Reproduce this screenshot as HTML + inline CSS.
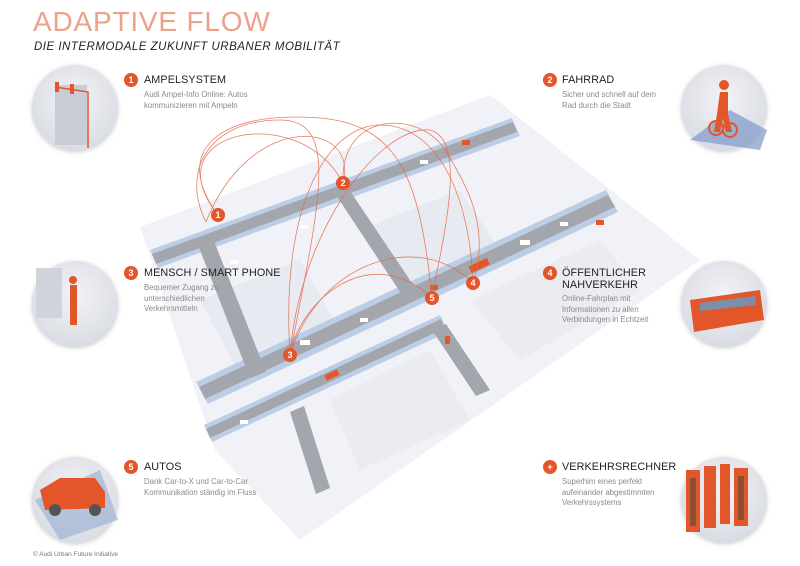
<!DOCTYPE html>
<html><head><meta charset="utf-8"><style>
html,body{margin:0;padding:0;background:#fff;}
body{width:800px;height:566px;position:relative;overflow:hidden;font-family:"Liberation Sans",sans-serif;}
.t{position:absolute;white-space:nowrap;}
.h{font-size:10.8px;color:#222;letter-spacing:0.1px;}
.d{font-size:7.8px;color:#8a8a8a;line-height:10.5px;}
.b{position:absolute;width:14px;height:14px;border-radius:50%;background:#e2562a;color:#fff;font-size:9px;font-weight:bold;text-align:center;line-height:14px;}
</style></head><body>
<svg width="800" height="566" style="position:absolute;left:0;top:0">
<defs>
<radialGradient id="cg" cx="50%" cy="40%" r="60%"><stop offset="0" stop-color="#f2f3f6"/><stop offset="1" stop-color="#d9dce3"/></radialGradient>
<filter id="sh"><feDropShadow dx="0" dy="1" stdDeviation="2" flood-color="#999" flood-opacity="0.5"/></filter>
</defs>
<!-- plateau -->
<polygon points="140,227 490,95 700,260 300,540 215,450" fill="#f1f2f7"/>
<polygon points="200,300 300,260 340,330 240,375" fill="#e8eaf1"/>
<polygon points="360,230 460,190 500,250 400,290" fill="#e8eaf1"/>
<polygon points="470,300 600,240 640,290 520,360" fill="#eaecf2"/>
<polygon points="330,400 430,350 470,420 360,470" fill="#eaecf2"/>
<!-- upper road -->
<polygon points="150,250 512,118 520,136 158,268" fill="#bccde6"/>
<polygon points="152,254 513,122 517,132 156,264" fill="#a4a6ad"/>
<!-- main road -->
<polygon points="196,382 606,190 618,212 208,404" fill="#bccde6"/>
<polygon points="199,387 608,195 615,207 205,399" fill="#a4a6ad"/>
<!-- lower road -->
<polygon points="204,425 440,315 448,332 212,442" fill="#bccde6"/>
<polygon points="206,429 441,319 445,328 210,438" fill="#a4a6ad"/>
<!-- cross roads -->
<polygon points="196,240 212,236 266,372 250,378" fill="#a4a6ad"/>
<polygon points="290,412 304,406 330,488 316,494" fill="#a4a6ad"/>
<polygon points="334,192 348,188 418,292 404,298" fill="#a4a6ad"/>
<polygon points="432,330 446,324 490,390 476,396" fill="#a4a6ad"/>
<!-- cars -->
<g fill="#fff">
<rect x="300" y="340" width="10" height="5"/><rect x="360" y="318" width="8" height="4"/><rect x="520" y="240" width="10" height="5"/><rect x="560" y="222" width="8" height="4"/><rect x="240" y="420" width="8" height="4"/><rect x="230" y="260" width="8" height="4"/><rect x="300" y="225" width="8" height="4"/><rect x="420" y="160" width="8" height="4"/>
</g>
<g fill="#e2562a">
<rect x="469" y="262" width="20" height="7" transform="rotate(-25 479 265)"/>
<rect x="430" y="285" width="8" height="5"/><rect x="462" y="140" width="8" height="5"/><rect x="596" y="220" width="8" height="5"/><rect x="445" y="336" width="5" height="8"/><rect x="325" y="372" width="14" height="6" transform="rotate(-25 332 375)"/>
</g>
<!-- arcs -->
<g fill="none" stroke="#e2694a" stroke-width="0.8" opacity="0.85">
<path d="M218,215 C170,150 220,110 320,118 C400,125 420,180 432,298"/>
<path d="M206,222 C180,170 210,120 280,120 C340,120 320,200 290,355"/>
<path d="M218,215 C150,130 300,100 343,183"/>
<path d="M290,355 C280,200 330,125 380,125 C440,125 470,200 473,283"/>
<path d="M290,355 C300,230 380,125 430,130 C470,140 440,250 432,298"/>
<path d="M343,183 C340,110 420,110 445,150 C470,190 490,230 473,283"/>
<path d="M290,355 C320,260 420,230 473,283"/>
<path d="M290,355 C300,300 370,240 432,298"/>
<path d="M343,183 C360,120 250,110 206,222"/>
</g>
<!-- circles -->
<g filter="url(#sh)">
<circle cx="75" cy="108" r="43" fill="url(#cg)"/>
<circle cx="724" cy="108" r="43" fill="url(#cg)"/>
<circle cx="75" cy="304" r="43" fill="url(#cg)"/>
<circle cx="724" cy="304" r="43" fill="url(#cg)"/>
<circle cx="75" cy="500" r="43" fill="url(#cg)"/>
<circle cx="724" cy="500" r="43" fill="url(#cg)"/>
</g>
<!-- circle contents -->
<rect x="55" y="85" width="32" height="60" fill="#c9ccd4"/>
<path d="M55,87 L88,92 L88,148" stroke="#e2562a" stroke-width="1.5" fill="none"/>
<rect x="55" y="82" width="4" height="10" fill="#e2562a"/><rect x="70" y="84" width="4" height="10" fill="#e2562a"/>
<path d="M690,140 L730,110 L767,130 L760,150 Z" fill="#7d98c8" opacity="0.7"/>
<path d="M720,92 h8 v22 l4,18 h-6 l-3,-14 l-3,14 h-6 l3,-18 z" fill="#e2562a"/>
<circle cx="724" cy="85" r="5" fill="#e2562a"/>
<circle cx="716" cy="128" r="7" fill="none" stroke="#e2562a" stroke-width="2"/><circle cx="730" cy="130" r="7" fill="none" stroke="#e2562a" stroke-width="2"/>
<rect x="36" y="268" width="26" height="50" fill="#d0d3da"/>
<path d="M70,285 h7 v40 h-7 z" fill="#e2562a"/><circle cx="73" cy="280" r="4" fill="#e2562a"/>
<path d="M690,300 L760,290 L764,320 L694,332 Z" fill="#e2562a"/>
<path d="M700,303 L755,296 L756,305 L700,311 Z" fill="#7d8ea8"/>
<path d="M35,500 L100,470 L118,520 L60,540 Z" fill="#9fb3d6" opacity="0.7"/>
<path d="M40,490 L60,478 L95,478 L105,492 L105,508 L45,510 Z" fill="#e2562a"/>
<circle cx="55" cy="510" r="6" fill="#555"/><circle cx="95" cy="510" r="6" fill="#555"/>
<g fill="#e2562a"><rect x="686" y="470" width="14" height="62"/><rect x="704" y="466" width="12" height="62"/><rect x="720" y="464" width="10" height="60"/><rect x="734" y="468" width="14" height="58"/></g>
<g fill="#8a5030"><rect x="690" y="478" width="6" height="48"/><rect x="738" y="476" width="6" height="44"/></g>
</svg>
<!-- map badges -->
<div class="b" style="left:211px;top:208px">1</div>
<div class="b" style="left:336px;top:176px">2</div>
<div class="b" style="left:283px;top:348px">3</div>
<div class="b" style="left:466px;top:276px">4</div>
<div class="b" style="left:425px;top:291px">5</div>

<div class="t" style="left:33px;top:6px;font-size:28px;color:#eda08a;letter-spacing:0.8px;">ADAPTIVE FLOW</div>
<div class="t" style="left:34px;top:41px;font-size:11.5px;font-style:italic;color:#222;letter-spacing:0.5px;">DIE INTERMODALE ZUKUNFT URBANER MOBILITÄT</div>

<div class="b" style="left:124px;top:73px">1</div>
<div class="t h" style="left:144px;top:74px">AMPELSYSTEM</div>
<div class="t d" style="left:144px;top:90px">Audi Ampel-Info Online: Autos<br>kommunizieren mit Ampeln</div>

<div class="b" style="left:543px;top:73px">2</div>
<div class="t h" style="left:562px;top:74px">FAHRRAD</div>
<div class="t d" style="left:562px;top:90px">Sicher und schnell auf dem<br>Rad durch die Stadt</div>

<div class="b" style="left:124px;top:266px">3</div>
<div class="t h" style="left:144px;top:267px">MENSCH / SMART PHONE</div>
<div class="t d" style="left:144px;top:283px">Bequemer Zugang zu<br>unterschiedlichen<br>Verkehrsmitteln</div>

<div class="b" style="left:543px;top:266px">4</div>
<div class="t h" style="left:562px;top:267px;line-height:12px">ÖFFENTLICHER<br>NAHVERKEHR</div>
<div class="t d" style="left:562px;top:294px">Online-Fahrplan mit<br>Informationen zu allen<br>Verbindungen in Echtzeit</div>

<div class="b" style="left:124px;top:460px">5</div>
<div class="t h" style="left:144px;top:461px">AUTOS</div>
<div class="t d" style="left:144px;top:477px">Dank Car-to-X und Car-to-Car<br>Kommunikation ständig im Fluss</div>

<div class="b" style="left:543px;top:460px">+</div>
<div class="t h" style="left:562px;top:461px">VERKEHRSRECHNER</div>
<div class="t d" style="left:562px;top:477px">Superhim eines perfekt<br>aufeinander abgestimmten<br>Verkehrssystems</div>

<div class="t" style="left:33px;top:551px;font-size:6.5px;color:#777">© Audi Urban Future Initiative</div>
</body></html>
